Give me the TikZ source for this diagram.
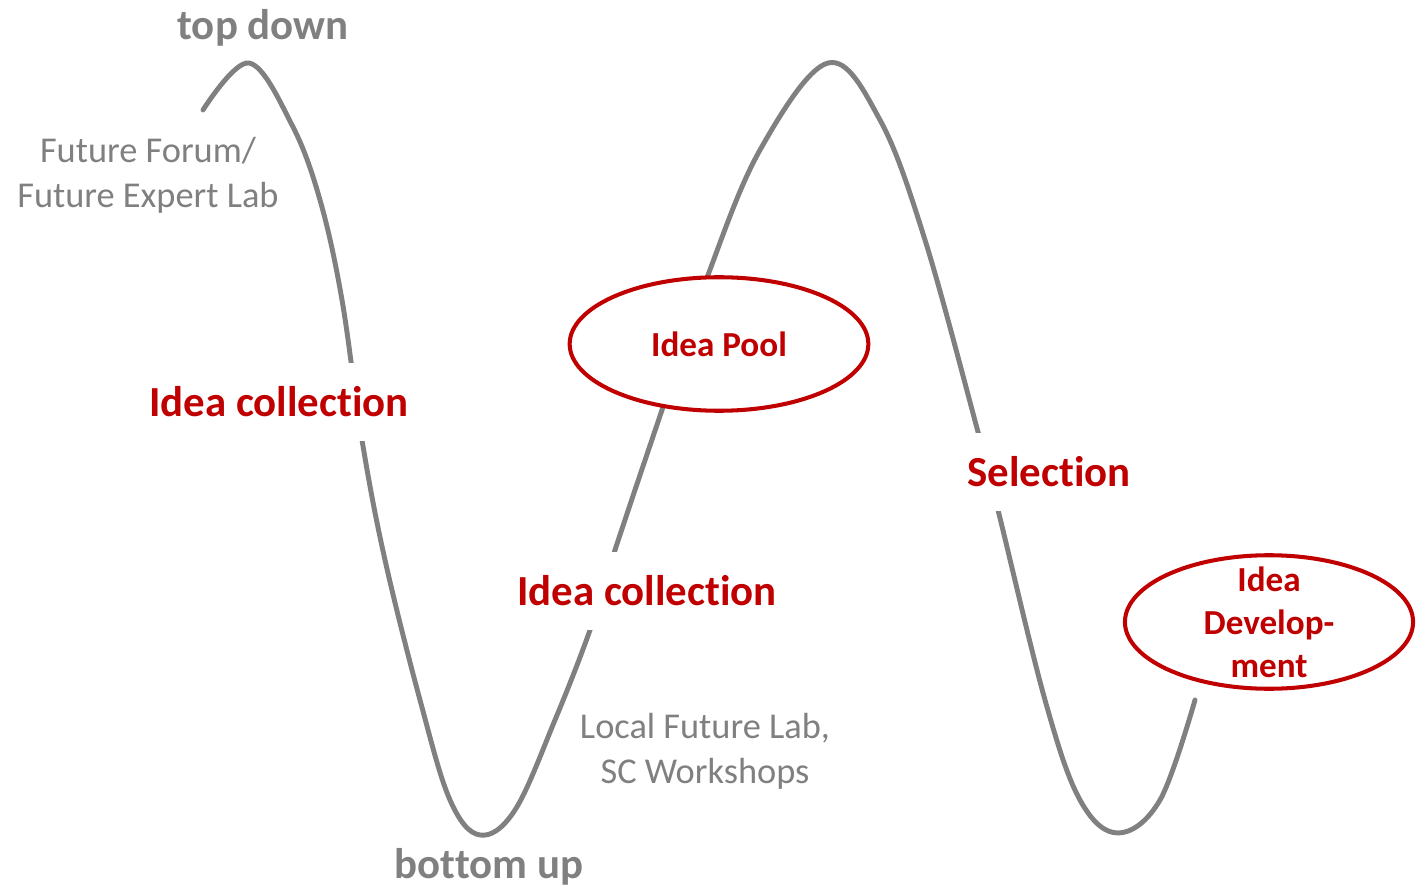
\documentclass[tikz,border=0pt]{standalone}
\usepackage{fontspec}
\setmainfont{Carlito}[Ligatures=NoCommon]
\usetikzlibrary{shapes.geometric}
\definecolor{wavegray}{HTML}{808080}
\definecolor{darkred}{HTML}{C00000}
\begin{document}
\begin{tikzpicture}[x=0.02cm, y=-0.02cm,
  wave/.style={draw=wavegray, line width=2.8pt, line cap=round},
  stage/.style={font=\bfseries\fontsize{24.4}{29}\selectfont, text=darkred, fill=white, inner xsep=4pt, inner ysep=0pt, minimum height=44pt},
  pool/.style={ellipse, draw=darkred, line width=2.3pt, fill=white, inner sep=0pt, font=\bfseries\fontsize{20}{24.4}\selectfont, text=darkred, align=center},
  side/.style={font=\fontsize{20.7}{25.5}\selectfont, text=wavegray, align=center},
  pole/.style={font=\bfseries\fontsize{24.4}{29}\selectfont, text=wavegray}]
\useasboundingbox (0,0) rectangle (1416,891);

\draw[wave] plot[smooth, tension=0.6] coordinates {(203,110) (249,63) (292,125) (320,200) (342,300) (362,440) (385,560) (420,700) (450,800) (480,835) (515,810) (555,720) (590,630) (615,550) (662,410) (708,275) (760,150) (828,63) (880,120) (925,240) (978,432) (998,510) (1045,700) (1080,800) (1118,833) (1160,800) (1195,700)};

\node[pole] (top) at (263,28) {top down};
\node[pole] (bottom) at (489,867) {bottom up};

\node[side] (forum) at (148,175) {Future Forum/\\Future Expert Lab};
\node[side] (local) at (705,751) {Local Future Lab,\\SC Workshops};

\node[stage] (collect1) at (279,402) {Idea collection};
\node[stage] (collect2) at (647,591) {Idea collection};
\node[stage] (select) at (1049,472) {Selection};

\node[pool, minimum width=170pt, minimum height=76pt] (ideapool) at (719,344) {Idea Pool};
\node[pool, minimum width=164pt, minimum height=76pt, inner ysep=-7pt] (develop) at (1269,622) {Idea\\Develop-\\ment};

\end{tikzpicture}
\end{document}
